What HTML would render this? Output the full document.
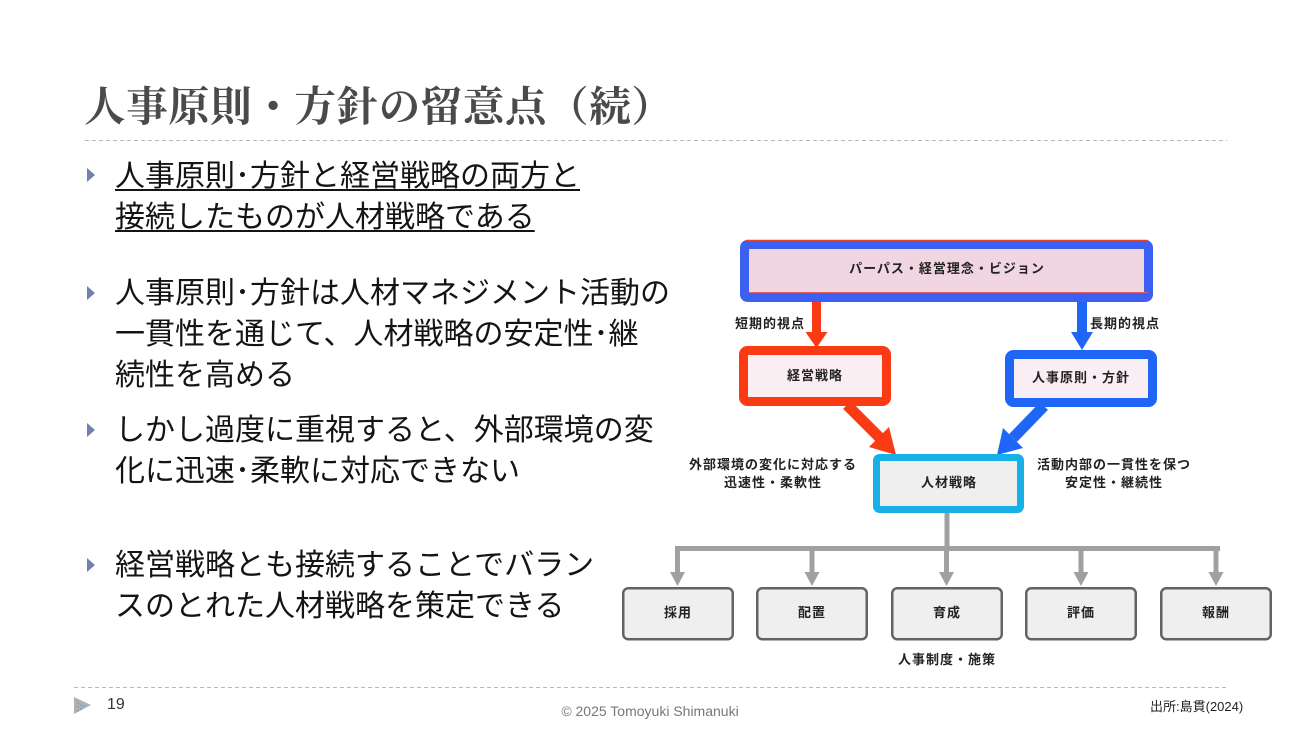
<!DOCTYPE html>
<html lang="ja">
<head>
<meta charset="utf-8">
<style>
  html,body{margin:0;padding:0;}
  body{width:1300px;height:740px;position:relative;overflow:hidden;background:#ffffff;
    font-family:"Liberation Sans","Noto Sans CJK JP",sans-serif;}
  .abs{position:absolute;white-space:nowrap;}
  .title{left:84px;top:79px;font-family:"Liberation Serif","Noto Serif CJK JP","Noto Serif CJK SC",serif;
    font-size:41.5px;line-height:56px;color:#4a4a4a;letter-spacing:0.6px;font-weight:bold;}
  .b{left:115px;font-size:30px;line-height:41px;color:#141414;}
  .b u{text-decoration:underline;text-decoration-thickness:2px;text-underline-offset:3px;}
  .dl{font-size:13px;font-weight:bold;color:#222;letter-spacing:1px;line-height:16px;}
  .c{transform:translateX(-50%);text-align:center;}
</style>
</head>
<body>

<div class="abs title">人事原則・方針の留意点（続）</div>

<svg class="abs" style="left:0;top:0" width="1300" height="740" viewBox="0 0 1300 740">
  <!-- dashed lines -->
  <line x1="85" y1="140.5" x2="1227" y2="140.5" stroke="#b8b8b8" stroke-width="1" stroke-dasharray="4 3"/>
  <line x1="74" y1="687.5" x2="1227" y2="687.5" stroke="#b8b8b8" stroke-width="1" stroke-dasharray="4 3"/>

  <!-- bullets -->
  <g fill="#6f82ab">
    <polygon points="87,168 95,175 87,182"/>
    <polygon points="87,286 95,293 87,300"/>
    <polygon points="87,423 95,430 87,437"/>
    <polygon points="87,558 95,565 87,572"/>
  </g>

  <!-- footer triangle -->
  <polygon points="74,697 91,705 74,714" fill="#b0b0b0"/>
  <g fill="#4aa8e0">
    <circle cx="78" cy="703" r="0.8"/><circle cx="81" cy="705" r="0.8"/><circle cx="78" cy="707" r="0.8"/>
    <circle cx="81" cy="709" r="0.8"/><circle cx="78" cy="711" r="0.8"/><circle cx="84" cy="706" r="0.8"/>
  </g>

  <!-- top box -->
  <rect x="744.5" y="244.5" width="404" height="53" rx="3" fill="#f1d6e2" stroke="#3c60f2" stroke-width="9"/>
  <line x1="746" y1="240.5" x2="1148" y2="240.5" stroke="#e8422a" stroke-width="1.5"/>
  <line x1="749" y1="292.5" x2="1148" y2="292.5" stroke="#e86060" stroke-width="1"/>

  <!-- vertical arrows -->
  <rect x="812" y="302" width="9" height="31" fill="#fa3a12"/>
  <polygon points="805.5,332 827.5,332 816.5,348" fill="#fa3a12"/>
  <rect x="1077" y="302" width="10" height="31" fill="#1f66f7"/>
  <polygon points="1071,332 1093,332 1082,350" fill="#1f66f7"/>

  <!-- red box -->
  <rect x="743.5" y="350.5" width="143" height="51" rx="4" fill="#fbeef3" stroke="#fa3a12" stroke-width="9"/>
  <!-- blue box -->
  <rect x="1009.5" y="354.5" width="143" height="48" rx="4" fill="#f9eef4" stroke="#1f66f7" stroke-width="9"/>

  <!-- diagonal arrows -->
  <line x1="847" y1="405" x2="880" y2="438" stroke="#fa3a12" stroke-width="11"/>
  <polygon points="889,427 869,447 896,455" fill="#fa3a12"/>
  <line x1="1044" y1="406" x2="1013" y2="438" stroke="#1f66f7" stroke-width="11"/>
  <polygon points="1003,428 1023,448 997,455" fill="#1f66f7"/>

  <!-- 人材戦略 box -->
  <rect x="876.5" y="457.5" width="144" height="52" rx="3" fill="#efefef" stroke="#17b1e8" stroke-width="7"/>

  <!-- gray tree -->
  <g fill="#a0a0a0">
    <rect x="944.5" y="513" width="5" height="37"/>
    <rect x="675" y="546" width="545" height="5"/>
    <rect x="675" y="546" width="5" height="27"/>
    <rect x="809.5" y="546" width="5" height="27"/>
    <rect x="944" y="546" width="5" height="27"/>
    <rect x="1078.5" y="546" width="5" height="27"/>
    <rect x="1213.5" y="546" width="5" height="27"/>
    <polygon points="670,572 685,572 677.5,586"/>
    <polygon points="804.5,572 819.5,572 812,586"/>
    <polygon points="939,572 954,572 946.5,586"/>
    <polygon points="1073.5,572 1088.5,572 1081,586"/>
    <polygon points="1208.5,572 1223.5,572 1216,586"/>
  </g>
  <g fill="#efefef" stroke="#636363" stroke-width="2.5">
    <rect x="623.25" y="588.25" width="109.5" height="51" rx="5"/>
    <rect x="757.25" y="588.25" width="109.5" height="51" rx="5"/>
    <rect x="892.25" y="588.25" width="109.5" height="51" rx="5"/>
    <rect x="1026.25" y="588.25" width="109.5" height="51" rx="5"/>
    <rect x="1161.25" y="588.25" width="109.5" height="51" rx="5"/>
  </g>
</svg>

<!-- bullets text -->
<div class="abs b" style="top:156px;"><u>人事原則･方針と経営戦略の両方と</u><br><u>接続したものが人材戦略である</u></div>
<div class="abs b" style="top:273px;">人事原則･方針は人材マネジメント活動の<br>一貫性を通じて、人材戦略の安定性･継<br>続性を高める</div>
<div class="abs b" style="top:410px;">しかし過度に重視すると、外部環境の変<br>化に迅速･柔軟に対応できない</div>
<div class="abs b" style="top:545px;">経営戦略とも接続することでバラン<br>スのとれた人材戦略を策定できる</div>

<!-- diagram labels -->
<div class="abs dl c" style="left:947px;top:261px;">パーパス・経営理念・ビジョン</div>
<div class="abs dl" style="left:735px;top:316px;">短期的視点</div>
<div class="abs dl" style="left:1090px;top:316px;">長期的視点</div>
<div class="abs dl c" style="left:815px;top:368px;">経営戦略</div>
<div class="abs dl c" style="left:1081px;top:370px;">人事原則・方針</div>
<div class="abs dl c" style="left:773px;top:457px;">外部環境の変化に対応する</div>
<div class="abs dl c" style="left:773px;top:475px;">迅速性・柔軟性</div>
<div class="abs dl c" style="left:1114px;top:457px;">活動内部の一貫性を保つ</div>
<div class="abs dl c" style="left:1114px;top:475px;">安定性・継続性</div>
<div class="abs dl c" style="left:949px;top:475px;">人材戦略</div>
<div class="abs dl c" style="left:678px;top:605px;">採用</div>
<div class="abs dl c" style="left:812px;top:605px;">配置</div>
<div class="abs dl c" style="left:947px;top:605px;">育成</div>
<div class="abs dl c" style="left:1081px;top:605px;">評価</div>
<div class="abs dl c" style="left:1216px;top:605px;">報酬</div>
<div class="abs dl c" style="left:947px;top:652px;">人事制度・施策</div>

<!-- footer -->
<div class="abs" style="left:107px;top:696px;font-size:16px;line-height:18px;color:#333;">19</div>
<div class="abs c" style="left:650px;top:703px;font-size:14px;line-height:16px;color:#777;">© 2025 Tomoyuki Shimanuki</div>
<div class="abs" style="left:1150px;top:699px;font-size:13px;line-height:16px;color:#222;">出所:島貫(2024)</div>

</body>
</html>
